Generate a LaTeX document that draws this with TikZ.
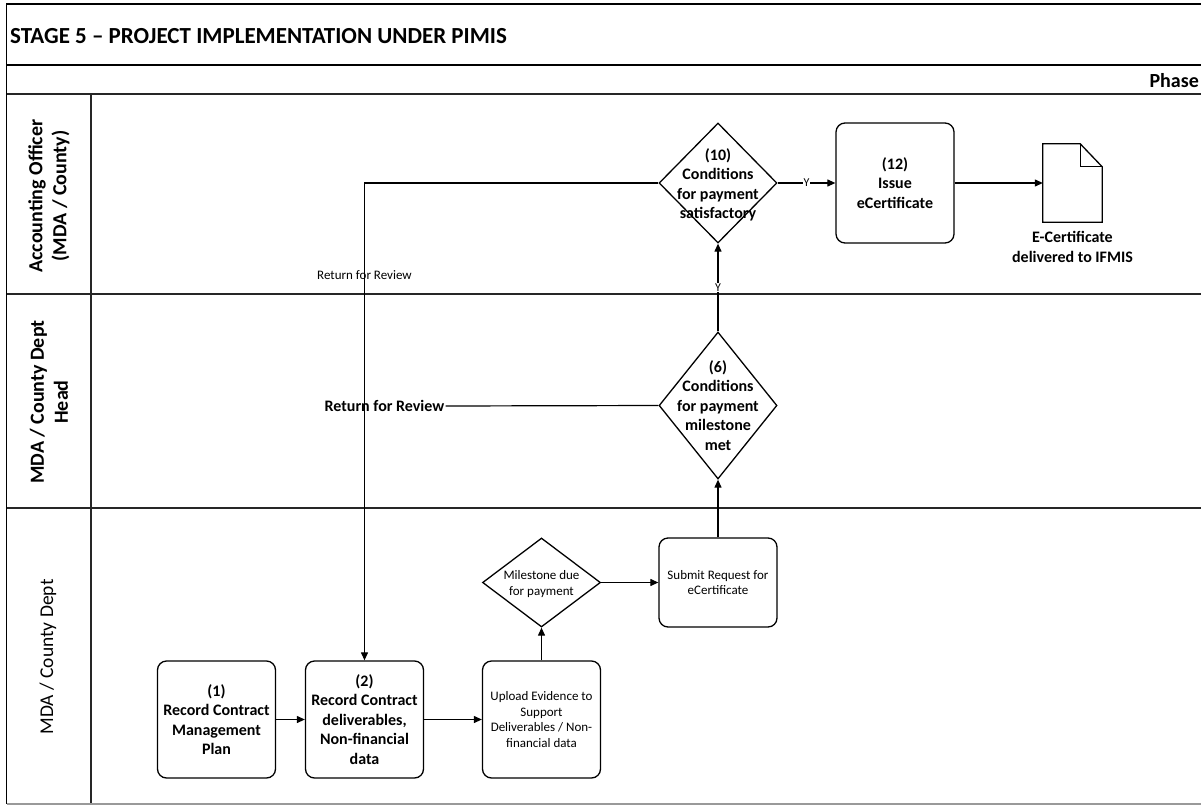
\documentclass[tikz,border=0pt]{standalone}
\usepackage{fontspec}
\setmainfont{Carlito}
\usetikzlibrary{shapes.geometric,arrows.meta}
\begin{document}
\begin{tikzpicture}[x=1pt,y=-1pt,
  frame/.style={line width=1.8pt, draw=black},
  laneline/.style={line width=1.4pt, draw=black!85},
  conn/.style={line width=1.2pt, -{Triangle[length=8pt,width=7pt]}},
  plainconn/.style={line width=1.2pt},
  procbox/.style={draw, line width=1.3pt, rounded corners=9pt, minimum width=118pt, minimum height=117pt, inner sep=0pt, align=center},
  decbox/.style={draw, diamond, line width=1.3pt, inner sep=0pt, minimum width=118pt},
  boldtxt/.style={font=\bfseries\fontsize{16}{19.5}\selectfont, align=center},
  smalltxt/.style={font=\fontsize{13}{15.5}\selectfont, align=center},
  ylab/.style={font=\fontsize{12}{14}\selectfont, fill=white, inner sep=1pt},
  lanelab/.style={rotate=90, align=center, font=\bfseries\fontsize{20}{24}\selectfont},
]
\useasboundingbox (0,0) rectangle (1201,808);
% frame
\draw[frame] (1201,4) -- (6.5,4) -- (6.5,804);
\draw[frame] (6.5,65) -- (1201,65);
\draw[laneline] (6.5,94) -- (1201,94);
\draw[laneline] (6.5,294) -- (1201,294);
\draw[laneline] (6.5,508) -- (1201,508);
\draw[laneline] (91,94) -- (91,804);
\draw[line width=1.4pt, draw=black!40] (6.5,804) -- (1201,804);
% header texts
\node[anchor=west, font=\bfseries\fontsize{23}{27}\selectfont, inner sep=0pt] (title) at (10,36) {STAGE 5 – PROJECT IMPLEMENTATION UNDER PIMIS};
\node[anchor=east, font=\bfseries\fontsize{20}{24}\selectfont, inner sep=0pt] (phase) at (1199,81) {Phase};
% lane labels
\node[lanelab] (lane1) at (49,196) {Accounting Officer\\(MDA / County)};
\node[lanelab] (lane2) at (49,402) {MDA / County Dept\\Head};
\node[lanelab, font=\fontsize{19.5}{23}\selectfont] (lane3) at (48,657) {MDA / County Dept};
% lane 3
\node[procbox, boldtxt] (b1) at (216.5,719.5) {(1)\\Record Contract\\Management\\Plan};
\node[procbox, boldtxt] (b2) at (364.5,719.5) {(2)\\Record Contract\\deliverables,\\Non-financial\\data};
\node[procbox, smalltxt] (up) at (541.5,719.5) {Upload Evidence to\\Support\\Deliverables / Non-\\financial data};
\node[decbox, minimum height=89pt] (dm) at (541.5,582.5) {};
\node[smalltxt] (dmt) at ([yshift=-1.5pt]dm.center) {Milestone due\\for payment};
\node[procbox, smalltxt, minimum height=89pt] (sub) at (718,582.5) {Submit Request for\\eCertificate};
% lane 2
\node[decbox, minimum height=147pt] (d6) at (718,405.5) {};
\node[boldtxt] (d6t) at (d6.center) {(6)\\Conditions\\for payment\\milestone\\met};
\node[boldtxt, inner sep=1pt] (ret2) at (384.5,406) {Return for Review};
% lane 1
\node[decbox, minimum height=120pt] (d10) at (718,183) {};
\node[boldtxt] (d10t) at ([yshift=-2pt]d10.center) {(10)\\Conditions\\for payment\\satisfactory};
\node[procbox, boldtxt, minimum height=120pt] (b12) at (895,183) {(12)\\Issue\\eCertificate};
\node[minimum width=59pt, minimum height=78pt, inner sep=0pt] (doc) at (1072.5,183) {};
\draw[line width=1.3pt] (doc.north west) -- ([xshift=-22pt]doc.north east) -- ([yshift=-23pt]doc.north east) -- (doc.south east) -- (doc.south west) -- cycle;
\draw[line width=1.3pt] ([xshift=-22pt]doc.north east) -- ([xshift=-22pt,yshift=-23pt]doc.north east) -- ([yshift=-23pt]doc.north east);
\node[boldtxt, anchor=north] (doclab) at ([yshift=-6pt]doc.south) {E-Certificate\\delivered to IFMIS};
% connectors
\draw[conn] (b1.east) -- (b2.west);
\draw[conn] (b2.east) -- (up.west);
\draw[conn] (up.north) -- (dm.south);
\draw[conn] (dm.east) -- (sub.west);
\draw[conn] (sub.north) -- (d6.south);
\draw[conn] (d6.north) -- node[ylab, pos=0.5] (y1) {Y} (d10.south);
\draw[conn] (d10.east) -- node[ylab, pos=0.5] (y2) {Y} (b12.west);
\draw[conn] (b12.east) -- (doc.west);
\draw[plainconn] (d6.west) -- (ret2.east);
\draw[conn] (d10.west) -| node[smalltxt, pos=0.596] (ret1) {Return for Review} (b2.north);
\end{tikzpicture}
\end{document}
